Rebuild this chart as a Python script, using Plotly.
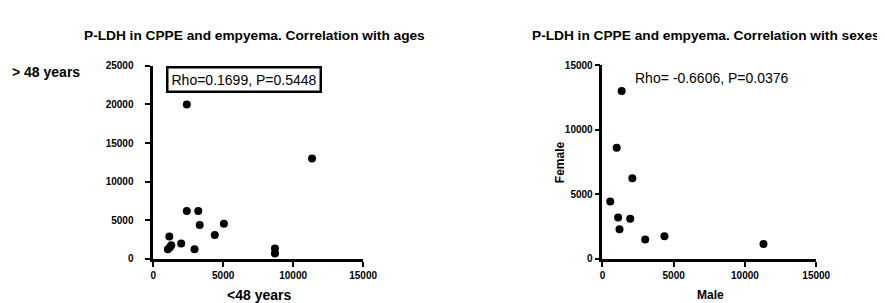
import plotly.graph_objects as go

# Left panel: P-LDH, <48 years (x) vs >48 years (y)
age_young = [2400, 11350, 2400, 3220, 3320, 5050, 4400, 1150, 2000, 2950, 1290, 1050, 1200, 8700, 8700]
age_old   = [20000, 13000, 6200, 6200, 4400, 4560, 3100, 2900, 2000, 1250, 1780, 1250, 1500, 1350, 700]

# Right panel: Male (x) vs Female (y)
male   = [1350, 1000, 2100, 550, 1100, 1950, 1200, 3000, 4350, 11300]
female = [13000, 8600, 6250, 4450, 3200, 3100, 2300, 1500, 1750, 1150]

left_ticks_x = [0, 5000, 10000, 15000]
left_ticks_y = [0, 5000, 10000, 15000, 20000, 25000]
right_ticks = [0, 5000, 10000, 15000]

W, H = 885, 303
def px(x): return x / W
def py(y): return 1 - y / H

FONT = "Liberation Sans"

fig = go.Figure()
fig.add_trace(go.Scatter(x=age_young, y=age_old, mode="markers",
                         marker=dict(color="black", size=8),
                         xaxis="x", yaxis="y", cliponaxis=False, showlegend=False))
fig.add_trace(go.Scatter(x=male, y=female, mode="markers",
                         marker=dict(color="black", size=8),
                         xaxis="x2", yaxis="y2", cliponaxis=False, showlegend=False))

axis_common = dict(showline=True, linecolor="black", linewidth=2.5, ticks="outside",
                   ticklen=5, tickwidth=2, tickcolor="black", showgrid=False, zeroline=False,
                   tickfont=dict(family=FONT, size=10, color="black", weight="bold"))

def tk(vals):
    return dict(tickvals=vals, ticktext=[str(v) for v in vals])

fig.update_layout(
    width=W, height=H, margin=dict(l=0, r=0, t=0, b=0),
    paper_bgcolor="white", plot_bgcolor="white",
    xaxis=dict(domain=[px(145), px(359)], range=[0, 15000], **tk(left_ticks_x),
               anchor="y", **axis_common),
    yaxis=dict(domain=[py(255), py(54)], range=[0, 25000], **tk(left_ticks_y),
               anchor="x", ticklabelstandoff=10, **axis_common),
    xaxis2=dict(domain=[px(603), px(821)], range=[0, 15000], **tk(right_ticks),
                anchor="y2", **axis_common),
    yaxis2=dict(domain=[py(255), py(53.3)], range=[0, 15000], **tk(right_ticks),
                anchor="x2", **axis_common),
)

ann = []
def text(x, y, s, size, bold=True, angle=0, **kw):
    ann.append(dict(x=px(x), y=py(y), xref="paper", yref="paper", text=s, showarrow=False,
                    textangle=angle, xanchor="center", yanchor="middle",
                    font=dict(family=FONT, size=size, color="black",
                              weight="bold" if bold else "normal"), **kw))

text(248, 22, "P-LDH in CPPE and empyema. Correlation with ages", 13.7)
text(709, 22, "P-LDH in CPPE and empyema. Correlation with sexes", 13.7)
text(45, 60, "&gt; 48 years", 14)
text(253, 293, "&lt;48 years", 14)
text(713, 293, "Male", 12)
text(560, 154, "Female", 12, angle=-90)
text(238, 68.5, "Rho=0.1699, P=0.5448", 14, bold=False,
     bordercolor="black", borderwidth=2.5, borderpad=3, bgcolor="white")
text(715, 67, "Rho= -0.6606, P=0.0376", 14, bold=False)

ann[2]["x"] = px(36)
fig.update_layout(annotations=ann)
fig.write_html("out.html")
